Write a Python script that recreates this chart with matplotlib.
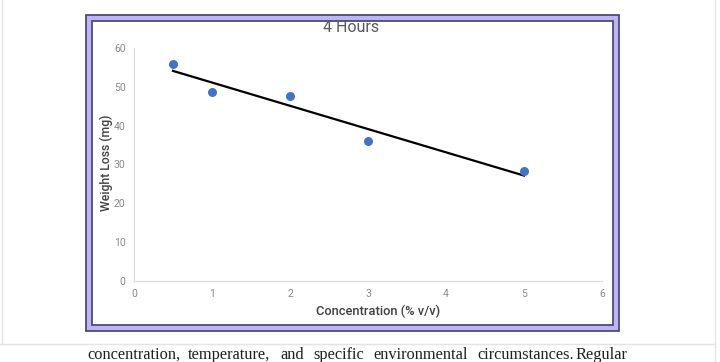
import numpy as np
import matplotlib
matplotlib.use("Agg")
import matplotlib.pyplot as plt
from matplotlib.patches import Rectangle
from matplotlib.lines import Line2D

# data
concentration = [0.5, 1, 2, 3, 5]
weight_loss = [56.0, 48.6, 47.7, 36.0, 28.3]
x_ticks = [0, 1, 2, 3, 4, 5, 6]
y_ticks = [0, 10, 20, 30, 40, 50, 60]
body_words = ['concentration,', 'temperature,', 'and', 'specific',
              'environmental', 'circumstances.', 'Regular']

plt.rcParams['font.family'] = ['Roboto', 'DejaVu Sans']

fig = plt.figure(figsize=(7.2, 3.62), dpi=100)
W, H = 720.0, 362.0


def fx(px):
    return px / W


def fy(py):
    return 1 - py / H


# page lines around the embedded chart
fig.add_artist(Line2D([fx(1.5), fx(1.5)], [fy(0), fy(344)], color='#e4e4e4', lw=1, zorder=-5))
fig.add_artist(Line2D([fx(715), fx(715)], [fy(0), fy(362)], color='#e4e4e4', lw=1, zorder=-5))
fig.add_artist(Line2D([fx(0), fx(715)], [fy(343.5), fy(343.5)], color='#e4e4e4', lw=1, zorder=-5))

# purple double frame
fig.add_artist(Rectangle((fx(85.5), fy(331)), (619 - 85.5) / W, (331 - 14.5) / H,
                         facecolor='#bdb5f5', edgecolor='#4e4a78', lw=1.3, zorder=-4))
fig.add_artist(Rectangle((fx(91.5), fy(325)), (613 - 91.5) / W, (325 - 20.5) / H,
                         facecolor='white', edgecolor='#4e4a78', lw=1.3, zorder=-3))

ax = fig.add_axes([fx(134), fy(281), (602 - 134) / W, (281 - 48) / H])
ax.set_facecolor('none')
ax.set_zorder(2)

ax.scatter(concentration, weight_loss, s=30, color='#4472c4', zorder=3)

# linear trendline
slope, intercept = np.polyfit(concentration, weight_loss, 1)
xt = np.array([min(concentration), max(concentration)])
ax.plot(xt, slope * xt + intercept, color='black', lw=1.6, zorder=2)

ax.set_xlim(0, 6)
ax.set_ylim(0, 60)
ax.set_xticks(x_ticks)
ax.set_yticks(y_ticks)
ax.tick_params(axis='both', length=0, labelsize=7.5, colors='#8a8a8a')
ax.tick_params(axis='x', pad=6)
ax.tick_params(axis='y', pad=6)

for side in ['top', 'right']:
    ax.spines[side].set_visible(False)
ax.spines['left'].set_color('#d9d9d9')
ax.spines['bottom'].set_color('#d9d9d9')
ax.spines['left'].set_linewidth(0.8)
ax.spines['bottom'].set_linewidth(0.8)

fig.text(fx(351), fy(27), '4 Hours', ha='center', va='center', fontsize=11.5, color='#595959')
fig.text(fx(378), fy(311), 'Concentration (% v/v)', ha='center', va='center',
         fontsize=9.3, color='#404040', fontweight='medium')
fig.text(fx(106), fy(163), 'Weight Loss (mg)', ha='center', va='center', rotation=90,
         fontsize=8.8, color='#404040', fontweight='medium')

# body text line below the chart, words placed where the page put them
word_starts = [87, 188, 280, 313, 373, 477, 576]
for w, x0 in zip(body_words, word_starts):
    fig.text(fx(x0), fy(359), w, ha='left', va='baseline', fontsize=11.8,
             family=['Liberation Serif'], color='#202020')

fig.savefig('out.png', dpi=100)
